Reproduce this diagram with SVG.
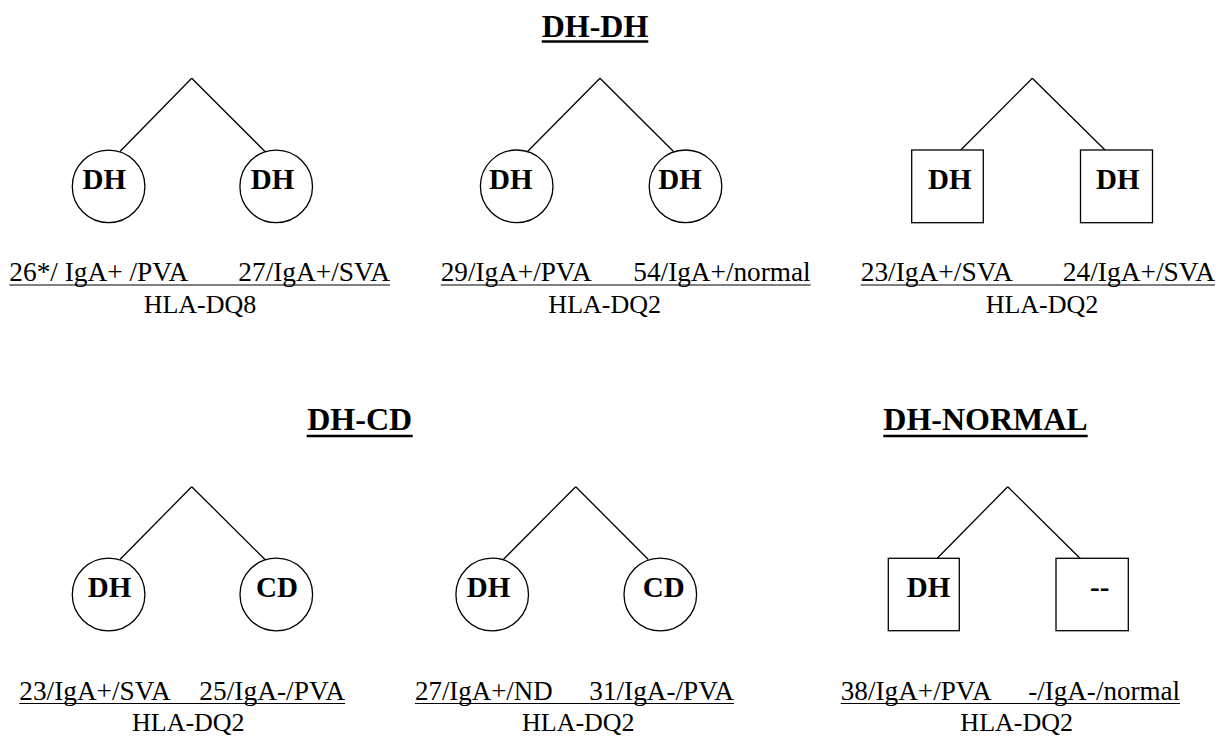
<svg xmlns="http://www.w3.org/2000/svg" width="1226" height="738" viewBox="0 0 1226 738">
<style>
.n{fill:#fff;stroke:#000;stroke-width:1.3}
.c line{stroke:#000;stroke-width:1.3;fill:none}
.t{font-weight:bold;font-size:32px;fill:#000}
.nl{font-weight:bold;font-size:29px;fill:#000}
.lb{font-size:26.5px;fill:#000}
.h{font-size:26px;fill:#000;text-anchor:middle}
.ul{stroke:#000;stroke-width:1.2}
.tul{stroke:#000;stroke-width:2.6}
</style>
<rect width="1226" height="738" fill="#fff"/>
<g font-family="Liberation Serif, DejaVu Serif, serif">
<g id="titles">
<text class="t" x="595" y="37" text-anchor="middle" font-family="Liberation Serif">DH-DH</text>
<line class="tul" x1="541.7" y1="41.5" x2="648.3" y2="41.5"/>
<text class="t" x="359.7" y="430" text-anchor="middle" font-family="Liberation Serif">DH-CD</text>
<line class="tul" x1="306.7" y1="436" x2="412.7" y2="436"/>
<text class="t" x="985.5" y="430" text-anchor="middle" font-family="Liberation Serif">DH-NORMAL</text>
<line class="tul" x1="883.3" y1="436" x2="1087.7" y2="436"/>
</g>

<g id="connectors" class="c">
<line x1="191.7" y1="78.3" x2="120" y2="151.5"/>
<line x1="191.7" y1="78.3" x2="265" y2="151.5"/>
<line x1="600" y1="78.3" x2="527.5" y2="151.5"/>
<line x1="600" y1="78.3" x2="673.5" y2="151.5"/>
<line x1="1032.3" y1="78.3" x2="960.7" y2="150"/>
<line x1="1032.3" y1="78.3" x2="1105" y2="150"/>
<line x1="191.7" y1="486.7" x2="120" y2="559.5"/>
<line x1="191.7" y1="486.7" x2="265" y2="559.5"/>
<line x1="575.7" y1="486.7" x2="503.3" y2="559.5"/>
<line x1="575.7" y1="486.7" x2="648.3" y2="559.5"/>
<line x1="1007.7" y1="486.7" x2="937.3" y2="558.3"/>
<line x1="1007.7" y1="486.7" x2="1080" y2="558.3"/>
</g>

<g id="p1-left"><circle class="n" cx="108.6" cy="186.4" r="36.3"/><text class="nl" x="82.5" y="189.3">DH</text></g>
<g id="p1-right"><circle class="n" cx="276.2" cy="186.4" r="36.3"/><text class="nl" x="250.7" y="189.3">DH</text></g>
<g id="p2-left"><circle class="n" cx="516.7" cy="186.3" r="36.3"/><text class="nl" x="489" y="189.3">DH</text></g>
<g id="p2-right"><circle class="n" cx="685.5" cy="186.3" r="36.3"/><text class="nl" x="658.3" y="189.3">DH</text></g>
<g id="p3-left"><rect class="n" x="911.7" y="150" width="71.6" height="72.7"/><text class="nl" x="928" y="189.3">DH</text></g>
<g id="p3-right"><rect class="n" x="1080.5" y="150" width="72" height="72.7"/><text class="nl" x="1096" y="189.3">DH</text></g>
<g id="p4-left"><circle class="n" cx="108.6" cy="594.5" r="36.3"/><text class="nl" x="87.7" y="596.8">DH</text></g>
<g id="p4-right"><circle class="n" cx="276.3" cy="594.5" r="36.3"/><text class="nl" x="256" y="596.8">CD</text></g>
<g id="p5-left"><circle class="n" cx="492.2" cy="594.5" r="36.3"/><text class="nl" x="466.7" y="596.8">DH</text></g>
<g id="p5-right"><circle class="n" cx="660.3" cy="594.5" r="36.3"/><text class="nl" x="642.7" y="596.8">CD</text></g>
<g id="p6-left"><rect class="n" x="888.3" y="558.3" width="71" height="72.4"/><text class="nl" x="906.7" y="596.8">DH</text></g>
<g id="p6-right"><rect class="n" x="1056" y="558.3" width="72.3" height="72.4"/><text class="nl" x="1090" y="596.8">--</text></g>

<g id="labels">
<text class="lb" x="9.3" y="281" textLength="179" lengthAdjust="spacingAndGlyphs">26*/ IgA+ /PVA</text>
<text class="lb" x="238.3" y="281" textLength="151.7" lengthAdjust="spacingAndGlyphs">27/IgA+/SVA</text>
<line class="ul" x1="9.3" y1="285" x2="390" y2="285"/>
<text class="h" x="200" y="313.3">HLA-DQ8</text>

<text class="lb" x="440.7" y="281" textLength="151" lengthAdjust="spacingAndGlyphs">29/IgA+/PVA</text>
<text class="lb" x="633.3" y="281" textLength="177.4" lengthAdjust="spacingAndGlyphs">54/IgA+/normal</text>
<line class="ul" x1="440.7" y1="285" x2="810.7" y2="285"/>
<text class="h" x="604.7" y="313.3">HLA-DQ2</text>

<text class="lb" x="860.7" y="281" textLength="152" lengthAdjust="spacingAndGlyphs">23/IgA+/SVA</text>
<text class="lb" x="1062.7" y="281" textLength="152.3" lengthAdjust="spacingAndGlyphs">24/IgA+/SVA</text>
<line class="ul" x1="860.7" y1="285" x2="1215" y2="285"/>
<text class="h" x="1042" y="313.3">HLA-DQ2</text>

<text class="lb" x="19.3" y="700" textLength="151.3" lengthAdjust="spacingAndGlyphs">23/IgA+/SVA</text>
<text class="lb" x="199.3" y="700" textLength="145.7" lengthAdjust="spacingAndGlyphs">25/IgA-/PVA</text>
<line class="ul" x1="19.3" y1="703.5" x2="345" y2="703.5"/>
<text class="h" x="188.3" y="731">HLA-DQ2</text>

<text class="lb" x="415" y="700" textLength="137.7" lengthAdjust="spacingAndGlyphs">27/IgA+/ND</text>
<text class="lb" x="589.3" y="700" textLength="144.7" lengthAdjust="spacingAndGlyphs">31/IgA-/PVA</text>
<line class="ul" x1="415" y1="703.5" x2="734" y2="703.5"/>
<text class="h" x="578.3" y="731">HLA-DQ2</text>

<text class="lb" x="840.7" y="700" textLength="151" lengthAdjust="spacingAndGlyphs">38/IgA+/PVA</text>
<text class="lb" x="1028.3" y="700" textLength="151.7" lengthAdjust="spacingAndGlyphs">-/IgA-/normal</text>
<line class="ul" x1="840.7" y1="703.5" x2="1180" y2="703.5"/>
<text class="h" x="1016.7" y="731">HLA-DQ2</text>
</g>
</g>
</svg>
